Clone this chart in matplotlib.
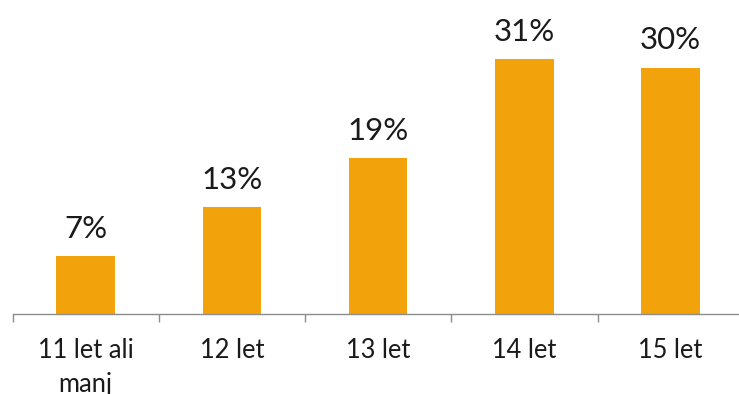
import matplotlib
matplotlib.use("Agg")
import matplotlib.pyplot as plt
import numpy as np

categories = ["11 let ali\nmanj", "12 let", "13 let", "14 let", "15 let"]
values = [7, 13, 19, 31, 30]
value_labels = ["7%", "13%", "19%", "31%", "30%"]

plt.rcParams['font.family'] = ['Lato', 'DejaVu Sans']

W, H = 739, 394
fig = plt.figure(figsize=(W/100, H/100), dpi=100)
left_px, right_px = 12.5, 743.8
base_px, top_px = 314, 59.3
ax = fig.add_axes([left_px/W, 1 - base_px/H, (right_px-left_px)/W, (base_px - 0)/H])
ppu = (base_px - top_px) / 31.0
ax.set_ylim(0, base_px / ppu)
ax.set_xlim(-0.5, 4.5)

x = np.arange(len(categories))
ax.bar(x, values, width=0.40, color='#F2A30C', zorder=2)

for xi, v, lab in zip(x, values, value_labels):
    ax.annotate(lab, (xi, v), xytext=(0, 13), textcoords='offset points',
                ha='center', va='baseline', fontsize=22.5, color='#1a1a1a')

for s in ['top', 'right', 'left']:
    ax.spines[s].set_visible(False)
ax.spines['bottom'].set_color('#8c8c8c')
ax.spines['bottom'].set_linewidth(1.0)
ax.set_yticks([])
ax.set_xticks(x)
ax.set_xticklabels(categories, fontsize=18.4, color='#1a1a1a', linespacing=1.45, va='top')
ax.tick_params(axis='x', which='major', length=0, pad=17)
ax.set_xticks(np.arange(-0.5, 5.0, 1.0), minor=True)
ax.tick_params(axis='x', which='minor', length=6, width=1.0, color='#8c8c8c', direction='out')

fig.savefig("out.png", dpi=100)
